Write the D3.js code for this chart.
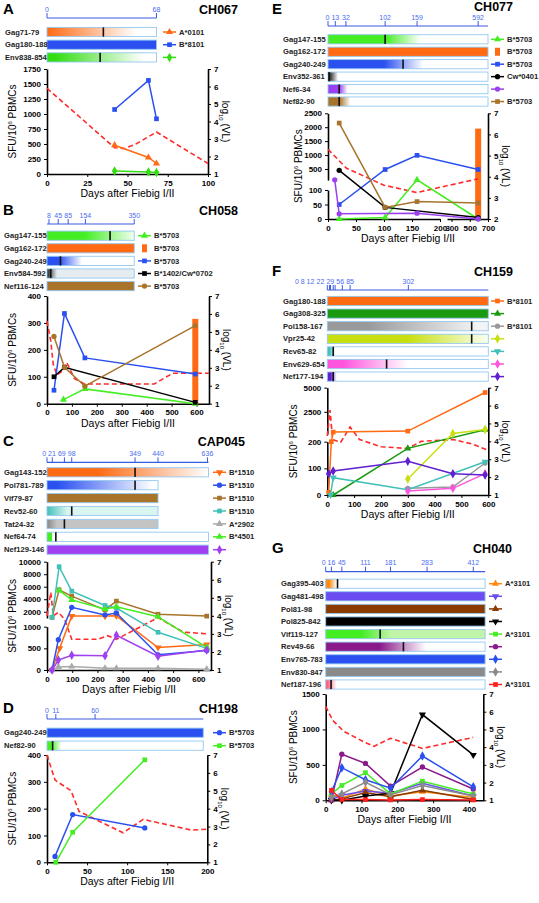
<!DOCTYPE html>
<html><head><meta charset="utf-8">
<script src="https://cdn.jsdelivr.net/npm/d3@7"></script>
<style>body{margin:0;background:#fff}svg{font-family:"Liberation Sans",Arial,sans-serif}</style>
</head><body><svg id="c" width="539" height="903"></svg>
<script>
// ---------- DATA ----------
// epitope rows: [name, color, fadeStart, fadeEnd, mark, endDay, endColor]
const A_timeline=[0,68];
const A_epitopes=[["Gag71-79","#ff6a13",0,55,35,68,"#fff"],["Gag180-188","#2a50f0",null,null,null,68],["Env838-854","#33dd11",5,60,33,68,"#fff"]];
const A_legend=[["tri","#ff6a13","A*0101"],["sq","#2a50f0","B*8101"],["dia","#33dd11",""]];
const A_series=[[[42,480],[63,275],[68,175]],[[42,1075],[63,1560],[68,920]],[[42,50],[63,35],[68,25]]];
const A_vl=[[0,5.9],[42,2.5],[48,2.45],[55,2.7],[68,3.4],[100,1.6]];
const A_bars=[];

const B_timeline=[8,45,85,154,350];
const B_epitopes=[["Gag147-155","#44ee22",150,350,253,350,"#f0fff0"],["Gag162-172","#ff6a13",null,null,null,350],["Gag240-249","#2a50f0",50,140,54,350,"#fff"],["Env584-592","#222",0,40,15,350,"#e4ecf0"],["Nef116-124","#a8742c",null,null,null,350]];
const B_legend=[["tri","#44ee22","B*5703"],["bar","#ff6a13","B*5703"],["sq","#2a50f0","B*5703"],["sq","#000","B*1402/Cw*0702"],["circ","#a8742c","B*5703"]];
const B_series=[[[66,15],[152,55],[595,0]],[],[[28,50],[70,335],[152,170],[595,110]],[[28,100],[70,135],[595,5]],[[28,250],[70,135],[152,65],[595,290]]];
const B_vl=[[0,5.6],[15,4.5],[25,3.2],[40,2.6],[60,2.8],[79,3.3],[110,2.4],[150,2.1],[430,2.1],[480,2.5],[505,2.7],[650,2.7]];
const B_bars=[[1,595,315]];

const C_timeline=[0,21,69,98,349,440,636];
const C_epitopes=[["Gag143-152","#ff6a13",200,640,349,640,"#fff"],["Pol781-789","#2a50f0",40,420,349,440,"#fff"],["Vif79-87","#a8742c",null,null,null,440],["Rev52-60","#40c0b8",0,80,98,440,"#d8f5f0"],["Tat24-32","#888",0,40,69,440,"#c4c4c4"],["Nef64-74","#44ee22",20,22,35,640,"#fff"],["Nef129-146","#a040f0",null,null,null,640]];
const C_legend=[["tridown","#ff6a13","B*1510"],["circ","#2a50f0","B*1510"],["sq","#a8742c","B*1510"],["sq","#40c0b8","B*1510"],["tri","#aaa","A*2902"],["tri","#44ee22","B*4501"],["dia","#a040f0",""]];
const C_series=[
 [[20,0],[50,500],[98,1300],[230,1300],[275,1350],[440,520],[633,590]],
 [[20,0],[45,700],[98,2700],[230,1500],[275,1800],[440,350],[633,450]],
 [[20,1100],[48,5500],[98,4500],[230,2300],[275,3700],[440,1600],[633,1300]],
 [[20,1100],[48,9200],[98,5300],[230,3000],[275,2600],[440,870],[633,500]],
 [[20,0],[45,70],[98,80],[230,40],[275,40],[440,40],[633,20]],
 [[48,5400],[98,3900],[230,2400],[275,2800],[440,1200],[633,520]],
 [[20,0],[45,230],[98,340],[230,330],[275,800],[440,320],[633,460]]];
const C_vl=[[0,4.0],[15,5.3],[25,4.0],[45,4.2],[70,3.8],[98,2.7],[200,2.7],[240,2.9],[275,2.7],[440,3.9],[540,3.1],[636,3.0]];
const C_bars=[];

const D_timeline=[0,11,60];
const D_epitopes=[["Gag240-249","#2a50f0",null,null,null,195],["Nef82-90","#44ee22",5,18,7,195,"#fff"]];
const D_legend=[["circ","#2a50f0","B*5703"],["sq","#44ee22","B*5703"]];
const D_series=[[[10,22],[32,178],[122,128]],[[11,0],[32,112],[122,382]]];
const D_vl=[[0,7],[10,5.6],[30,5.0],[40,3.85],[95,2.65],[120,3.4],[160,3.0],[180,2.8],[200,2.85]];
const D_bars=[];

const E_timeline=[0,13,32,102,159,592];
const E_epitopes=[["Gag147-155","#44ee22",102,165,102,700,"#fff"],["Gag162-172","#ff6a13",null,null,null,700],["Gag240-249","#2a50f0",100,170,134,700,"#fff"],["Env352-361","#000",0,18,2,700,"#fff"],["Nef6-34","#9a40f0",20,35,20,700,"#fff"],["Nef82-90","#a8742c",20,40,20,700,"#fff"]];
const E_legend=[["tri","#44ee22","B*5703"],["bar","#ff6a13","B*5703"],["sq","#2a50f0","B*5703"],["circ","#000","Cw*0401"],["circ","#9a40f0",""],["sq","#a8742c","B*5703"]];
const E_series=[[[20,0],[102,5],[159,110],[592,0]],[],[[20,50],[102,480],[159,990],[592,480]],[[20,450],[102,40],[592,5]],[[12,110],[20,18],[159,20],[592,0]],[[20,2150],[102,40],[159,60],[592,55]]];
const E_vl=[[0,5.3],[33,4.4],[100,3.6],[159,3.25],[200,3.5],[592,3.9]];
const E_bars=[[1,592,1950]];

const F_timeline=[0,8,12,22,29,56,85,302];
const F_epitopes=[["Gag180-188","#ff6a13",null,null,null,600],["Gag308-325","#1a9a10",null,null,null,600],["Pol158-167","#999",150,560,538,600,"#f4f4f4"],["Vpr25-42","#c8e010",300,600,538,600,"#fafff0"],["Rev65-82","#40c0b8",8,30,22,600,"#fff"],["Env629-654","#ff55dd",60,300,221,600,"#fff"],["Nef177-194","#6020d0",12,35,22,600,"#fff"]];
const F_legend=[["sq","#ff6a13","B*8101"],["tri","#1a9a10",""],["circ","#999","B*8101"],["dia","#c8e010",""],["tridown","#40c0b8",""],["dia","#ff55dd",""],["dia","#6020d0",""]];
const F_series=[
 [[5,10],[15,200],[22,400],[300,500],[588,4500]],
 [[22,0],[300,175],[588,650]],
 [[300,25],[468,30],[588,120]],
 [[300,60],[468,250],[588,670]],
 [[12,0],[22,65],[300,20],[588,125]],
 [[300,15],[468,25],[588,80]],
 [[5,80],[22,90],[300,127],[468,80],[588,75]]];
const F_vl=[[0,4.3],[10,5.75],[20,4.1],[50,3.95],[85,4.8],[120,4.1],[200,3.7],[300,3.6],[350,4.0],[470,4.1],[540,3.85],[600,3.5]];
const F_bars=[];

const G_timeline=[0,16,45,111,181,283,412];
const G_epitopes=[["Gag395-403","#ff8a13",10,30,33,445,"#fff"],["Gag481-498","#6a4cf0",null,null,null,445],["Pol81-98","#8b3a00",null,null,null,445],["Pol825-842","#000",null,null,null,445],["Vif119-127","#44ee22",100,181,152,445,"#c0f4a8"],["Rev49-66","#8a1a8a",150,280,217,445,"#fff"],["Env765-783","#2a50f0",null,null,null,445],["Env830-847","#8a8a8a",null,null,null,445],["Nef187-196","#ff6080",5,30,15,445,"#fff"]];
const G_legend=[["tri","#ff8a13","A*3101"],["tridown","#6a4cf0",""],["tri","#8b3a00",""],["tridown","#000",""],["sq","#44ee22","A*3101"],["circ","#8a1a8a",""],["dia","#2a50f0",""],["dia","#8a8a8a",""],["sq","#ff2020","A*3101"]];
const G_days=[16,45,111,181,270,412];
const G_values=[
 [80,30,160,60,120,40],[10,70,130,100,240,60],[0,20,110,50,140,10],[0,0,60,100,1210,640],
 [90,210,390,90,270,90],[0,650,520,200,470,160],[120,460,290,170,625,190],[40,90,255,80,210,60],[140,10,10,5,10,5]];
const G_series=G_values.map(r=>r.map((v,i)=>[G_days[i],v]));
const G_vl=[[0,6.3],[20,5.5],[50,4.9],[111,4.25],[135,4.05],[181,4.5],[270,3.93],[412,4.55]];
const G_bars=[];

// ---------- LAYOUT ----------
const panels=[
 {L:"A",id:"CH067",lx:3,ly:14,idY:14,idR:238,tlY:18,r0:32,rs:12.7,labX:5,legX:163,tl:A_timeline,ep:A_epitopes,lg:A_legend,se:A_series,vl:A_vl,bars:A_bars,
  xs:[{d:[0,100],r:[47,208],t:[0,25,50,75,100]}],ys:[{d:[0,1750],r:[174,69],t:[0,250,500,750,1000,1250,1500,1750]}],vd:[1,7],ytx:12},
 {L:"B",id:"CH058",lx:3,ly:215,idY:215,idR:238,tlY:224,r0:235.7,rs:12.6,labX:4,legX:138,tl:B_timeline,ep:B_epitopes,lg:B_legend,se:B_series,vl:B_vl,bars:B_bars,
  xs:[{d:[0,650],r:[47,209],t:[0,100,200,300,400,500,600]}],ys:[{d:[0,400],r:[403.7,296],t:[0,100,200,300,400]}],vd:[1,7],ytx:12},
 {L:"C",id:"CAP045",lx:3,ly:446,idY:446,idR:245,tlY:462.3,r0:472.3,rs:12.9,labX:4,legX:213,tl:C_timeline,ep:C_epitopes,lg:C_legend,se:C_series,vl:C_vl,bars:C_bars,
  xs:[{d:[0,650],r:[47,211],t:[0,100,200,300,400,500,600]}],ys:[{d:[0,1000],r:[670,626.7],t:[0,500,1000]},{d:[1000,10000],r:[618,561.7],t:[2000,4000,6000,8000,10000]}],vd:[1,7],ytx:12},
 {L:"D",id:"CH198",lx:3,ly:713,idY:713,idR:238,tlY:719,r0:732.7,rs:13,labX:4,legX:213,tl:D_timeline,ep:D_epitopes,lg:D_legend,se:D_series,vl:D_vl,bars:D_bars,
  xs:[{d:[0,200],r:[47,207.3],t:[0,50,100,150,200]}],ys:[{d:[0,400],r:[862.3,755],t:[0,100,200,300,400]}],vd:[1,7],ytx:12},
 {L:"E",id:"CH077",lx:272,ly:14,idY:11,idR:513,tlY:26,r0:39.3,rs:12.45,labX:283,legX:491,tl:E_timeline,ep:E_epitopes,lg:E_legend,se:E_series,vl:E_vl,bars:E_bars,
  xs:[{d:[0,200],r:[328,440],t:[0,50,100,150,200]},{d:[250,700],r:[447,488],t:[300,500,700]}],ys:[{d:[0,100],r:[219,190],t:[0,50,100]},{d:[100,2500],r:[180.1,113.3],t:[500,1000,1500,2000,2500]}],vd:[2,7],ytx:298},
 {L:"F",id:"CH159",lx:272,ly:276,idY:276,idR:513,tlY:290,r0:301,rs:12.6,labX:283,legX:491,tl:F_timeline,ep:F_epitopes,lg:F_legend,se:F_series,vl:F_vl,bars:F_bars,
  xs:[{d:[0,600],r:[327.3,488.3],t:[0,100,200,300,400,500,600]}],ys:[{d:[0,200],r:[495,441.7],t:[0,100,200]},{d:[200,5000],r:[434,387.7],t:[2500,5000]}],vd:[1,7],ytx:293},
 {L:"G",id:"CH040",lx:272,ly:553,idY:553,idR:512,tlY:571.7,r0:583.7,rs:12.6,labX:281,legX:489,tl:G_timeline,ep:G_epitopes,lg:G_legend,se:G_series,vl:G_vl,bars:G_bars,
  xs:[{d:[0,440],r:[325.7,483.3],t:[0,100,200,300,400]}],ys:[{d:[0,1500],r:[800.3,694],t:[0,500,1000,1500]}],vd:[1,7],ytx:293}
];

const svg=d3.select("#c");
const defs=svg.append("defs");
const symMap={tri:d3.symbolTriangle,tridown:d3.symbolTriangle,sq:d3.symbolSquare,circ:d3.symbolCircle,dia:d3.symbolDiamond};
function marker(g,type,color,x,y){
  if(type==="bar"){g.append("rect").attr("x",x-2.5).attr("y",y-4).attr("width",5).attr("height",8).attr("fill",color);return;}
  g.append("path").attr("d",d3.symbol().type(symMap[type]).size(type==="dia"?26:22)())
   .attr("transform",`translate(${x},${y})${type==="tridown"?" rotate(180)":""}`).attr("fill",color);
}
const fmt=d3.format("d");

panels.forEach((p,pi)=>{
  const g=svg.append("g");
  const xsc=p.xs.map(s=>d3.scaleLinear().domain(s.d).range(s.r));
  const X=v=>{for(let i=0;i<xsc.length;i++){if(v<=p.xs[i].d[1]||i===xsc.length-1)return xsc[i](v);}};
  const ysc=p.ys.map(s=>d3.scaleLinear().domain(s.d).range(s.r));
  const Y=v=>{for(let i=0;i<ysc.length;i++){if(v<=p.ys[i].d[1]||i===ysc.length-1)return ysc[i](v);}};
  const x0=p.xs[0].r[0],x1=p.xs[p.xs.length-1].r[1];
  const yB=p.ys[0].r[0],yT=p.ys[p.ys.length-1].r[1];
  const V=d3.scaleLinear().domain(p.vd).range([yB,yT]);

  g.append("text").attr("x",p.lx).attr("y",p.ly).attr("font-size",15).attr("font-weight","bold").text(p.L);
  g.append("text").attr("x",p.idR).attr("y",p.idY).attr("text-anchor","end").attr("font-size",12.5).attr("font-weight","bold").text(p.id);

  const endDay=p.ep[0][5];
  const tlc="#3a5ae0";
  g.append("line").attr("x1",X(0)).attr("x2",X(endDay)).attr("y1",p.tlY).attr("y2",p.tlY).attr("stroke",tlc).attr("stroke-width",1.2);
  let lx=p.tl.map(t=>X(t)), lw=p.tl.map(t=>String(t).length*4.2);
  p.tl.forEach((t,i)=>g.append("line").attr("x1",X(t)).attr("x2",X(t)).attr("y1",p.tlY).attr("y2",p.tlY-5).attr("stroke",tlc).attr("stroke-width",1));
  for(let i=lx.length-2;i>=0;i--){const lim=lx[i+1]-lw[i+1]/2-lw[i]/2-1.5; if(lx[i]>lim)lx[i]=lim;}
  p.tl.forEach((t,i)=>g.append("text").attr("x",lx[i]).attr("y",p.tlY-6.5).attr("text-anchor","middle").attr("font-size",7).attr("fill","#4a6cf0").text(t));

  p.ep.forEach((e,i)=>{
    const [name,col,fs,fe,mk,end,ec]=e;
    const y=p.r0+i*p.rs, bx=X(0), bw=X(end)-X(0);
    let fill=col;
    if(fs!==null){
      const gid=`g${pi}_${i}`;
      const lg=defs.append("linearGradient").attr("id",gid).attr("x1",0).attr("x2",1).attr("y1",0).attr("y2",0);
      const f=v=>Math.max(0,Math.min(1,(X(v)-bx)/bw));
      [[0,col],[f(fs),col],[f(fe),ec||"#fff"],[1,ec||"#fff"]].forEach(s=>lg.append("stop").attr("offset",s[0]).attr("stop-color",s[1]));
      fill=`url(#${gid})`;
    }
    g.append("rect").attr("x",bx).attr("y",y-4.6).attr("width",bw).attr("height",9.2).attr("fill",fill).attr("stroke","#94c8f0").attr("stroke-width",0.9);
    if(mk!==null)g.append("rect").attr("x",X(mk)-0.8).attr("y",y-4.6).attr("width",1.6).attr("height",9.2).attr("fill","#111");
    g.append("text").attr("x",p.labX).attr("y",y+2.6).attr("font-size",7.6).attr("font-weight","bold").attr("fill","#222").text(name);
    const L=p.lg[i];
    if(L[0]!=="bar")g.append("line").attr("x1",p.legX).attr("x2",p.legX+13).attr("y1",y).attr("y2",y).attr("stroke",L[1]).attr("stroke-width",1.5);
    marker(g,L[0],L[1],p.legX+6.5,y);
    g.append("text").attr("x",p.legX+16).attr("y",y+2.6).attr("font-size",7.6).attr("font-weight","bold").attr("fill","#222").text(L[2]);
  });

  const styleAx=ax=>{ax.select(".domain").attr("stroke-width",1.6);ax.selectAll("text").attr("font-size",8).attr("font-weight","bold").attr("font-family","Liberation Sans, Arial");};
  p.ys.forEach((s,i)=>styleAx(g.append("g").attr("transform",`translate(${x0},0)`).call(d3.axisLeft(ysc[i]).tickValues(s.t).tickSize(3).tickSizeOuter(0).tickFormat(fmt))));
  p.xs.forEach((s,i)=>styleAx(g.append("g").attr("transform",`translate(0,${yB})`).call(d3.axisBottom(xsc[i]).tickValues(s.t).tickSize(3).tickSizeOuter(0).tickFormat(fmt))));
  const rt=d3.range(p.vd[0],p.vd[1]+1);
  styleAx(g.append("g").attr("transform",`translate(${x1},0)`).call(d3.axisRight(V).tickValues(rt).tickSize(3).tickSizeOuter(0).tickFormat(fmt)));

  g.append("text").attr("x",(x0+x1)/2).attr("y",yB+23).attr("text-anchor","middle").attr("font-size",10.5).text("Days after Fiebig I/II");
  const ym=(yB+yT)/2;
  g.append("text").attr("transform",`translate(${p.ytx},${ym}) rotate(-90)`).attr("text-anchor","middle").attr("font-size",10).attr("dy","0.35em")
   .html('SFU/10<tspan dy="-4" font-size="6">6</tspan><tspan dy="4"> PBMCs</tspan>');
  g.append("text").attr("transform",`translate(${x1+17},${ym}) rotate(90)`).attr("text-anchor","middle").attr("font-size",10).attr("dy","0.35em")
   .html('log<tspan dy="3" font-size="6">10</tspan><tspan dy="-3"> (VL)</tspan>');

  p.bars.forEach(b=>{const c=p.lg[b[0]][1];g.append("rect").attr("x",X(b[1])-3).attr("width",6).attr("y",Y(b[2])).attr("height",Y(0)-Y(b[2])).attr("fill",c);});
  g.append("path").datum(p.vl).attr("d",d3.line().x(d=>X(d[0])).y(d=>V(d[1])))
   .attr("fill","none").attr("stroke","#ff2a2a").attr("stroke-width",1.6).attr("stroke-dasharray","5,3");
  p.se.forEach((s,i)=>{
    if(!s.length)return;const L=p.lg[i];
    g.append("path").datum(s).attr("d",d3.line().x(d=>X(d[0])).y(d=>Y(d[1]))).attr("fill","none").attr("stroke",L[1]).attr("stroke-width",1.5);
    s.forEach(d=>marker(g,L[0]==="bar"?"sq":L[0],L[1],X(d[0]),Y(d[1])));
  });
});
</script></body></html>
